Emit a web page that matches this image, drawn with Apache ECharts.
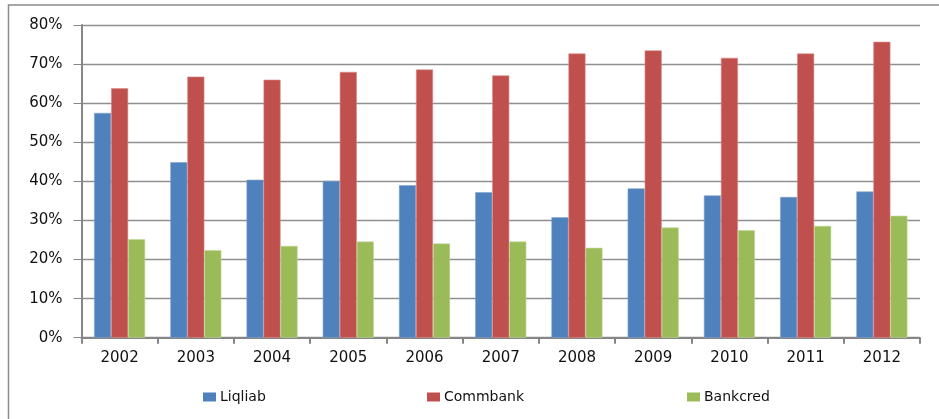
<!DOCTYPE html>
<html>
<head>
<meta charset="utf-8">
<script src="https://cdn.jsdelivr.net/npm/echarts@6/dist/echarts.min.js"></script>
<style>
  html, body { margin: 0; padding: 0; background: #ffffff; }
  #chart { width: 939px; height: 419px; }
</style>
</head>
<body>
<div id="chart"></div>
<script>
// Years on the category axis
const years = ['2002', '2003', '2004', '2005', '2006', '2007', '2008', '2009', '2010', '2011', '2012'];

// Ratios in percent
const liqliab  = [57.5, 44.9, 40.4, 40.1, 39.0, 37.2, 30.8, 38.2, 36.4, 36.0, 37.4];
const commbank = [63.8, 66.8, 66.0, 68.0, 68.6, 67.1, 72.7, 73.5, 71.6, 72.7, 75.7];
const bankcred = [25.2, 22.4, 23.5, 24.6, 24.1, 24.6, 23.0, 28.2, 27.5, 28.6, 31.2];

// Value axis ticks
const yTicks = [0, 10, 20, 30, 40, 50, 60, 70, 80];

const seriesNames = ['Liqliab', 'Commbank', 'Bankcred'];
const seriesData = [liqliab, commbank, bankcred];
const colors = ['#4F81BD', '#C0504D', '#9BBB59'];
const edgeColors = ['#7fa3cf', '#d98a88', '#c0d89a'];
const legendLefts = [198, 422, 682];

const font = 'DejaVu Sans, Verdana, sans-serif';

const chart = echarts.init(document.getElementById('chart'), null, { renderer: 'canvas' });

chart.setOption({
  animation: false,
  backgroundColor: '#ffffff',
  grid: { left: 81.5, right: 19, top: 25, bottom: 81.3, containLabel: false },
  legend: seriesNames.map((name, i) => ({
    data: [{ name: name, itemStyle: { borderWidth: 0 } }],
    left: legendLefts[i],
    top: 385,
    itemWidth: 13,
    itemHeight: 9,
    itemGap: 0,
    icon: 'rect',
    textStyle: { fontFamily: font, fontSize: 14, color: '#111', padding: [0, 0, 0, -1] }
  })),
  xAxis: {
    type: 'category',
    data: years,
    boundaryGap: true,
    axisLine: { lineStyle: { color: '#868686', width: 2 } },
    axisTick: { show: true, length: 6, lineStyle: { color: '#868686', width: 2 } },
    axisLabel: { fontFamily: font, fontSize: 15, color: '#111', margin: 13 }
  },
  yAxis: {
    type: 'value',
    min: yTicks[0],
    max: yTicks[yTicks.length - 1],
    interval: yTicks[1] - yTicks[0],
    axisLine: { show: true, lineStyle: { color: '#868686', width: 2 } },
    axisTick: { show: true, length: 8, lineStyle: { color: '#868686', width: 1 } },
    axisLabel: { fontFamily: font, fontSize: 15, color: '#111', margin: 19, formatter: v => v + '%' },
    splitLine: { show: true, lineStyle: { color: '#8f8f8f', width: 1.3 } }
  },
  series: seriesNames.map((name, i) => ({
    name: name,
    type: 'bar',
    data: seriesData[i],
    barGap: '0%',
    barCategoryGap: '33%',
    itemStyle: { color: colors[i], borderColor: edgeColors[i], borderWidth: 0.6 }
  })),
  graphic: {
    elements: [
      // outer frame (left and top edges)
      { type: 'polyline', id: 'frame', z: 101,
        shape: { points: [[8.5, 419], [8.5, 5], [939, 5]] },
        style: { stroke: '#8c8c8c', lineWidth: 1.5, fill: null } }
    ]
  }
});
</script>
</body>
</html>
